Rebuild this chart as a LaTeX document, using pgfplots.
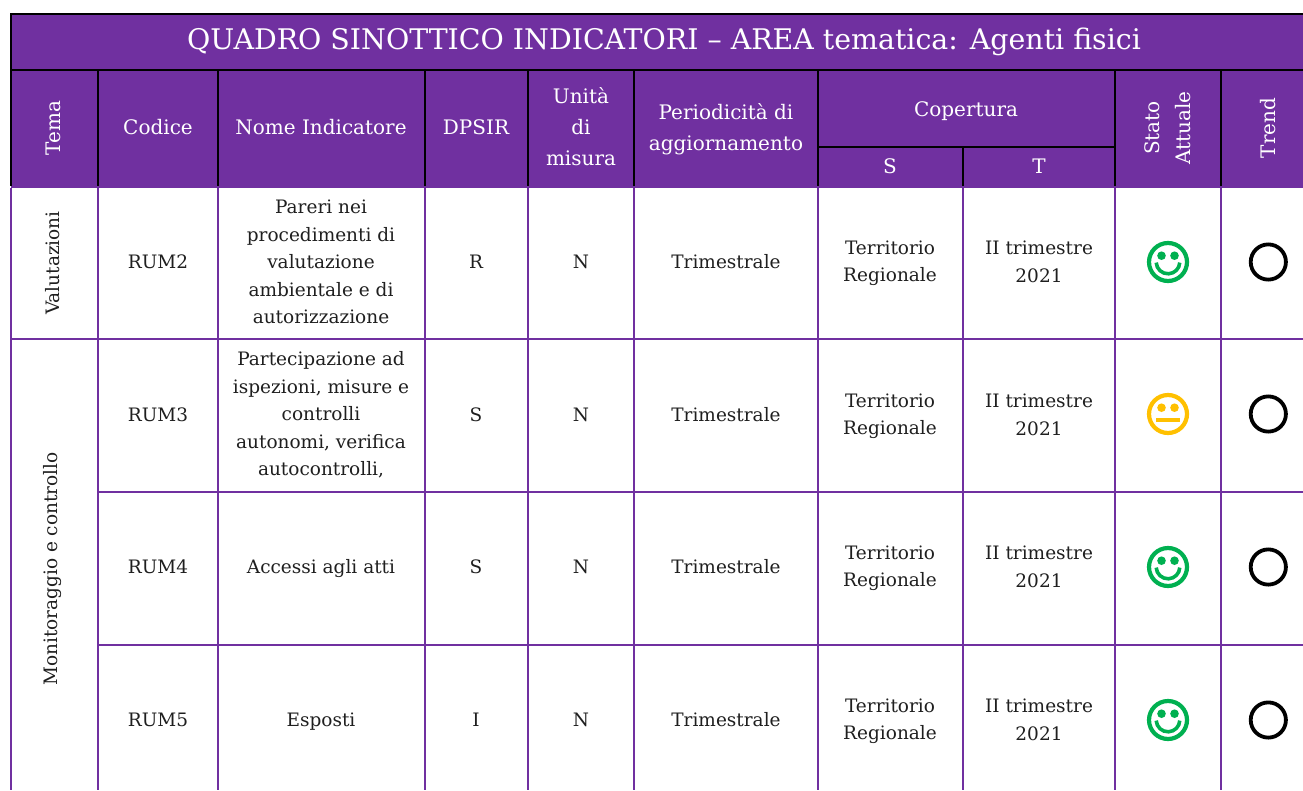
\documentclass[border=0pt]{standalone}
\usepackage{pgfplots}
\pgfplotsset{compat=1.18}
\usepackage{fontspec}
\setmainfont{DejaVu Serif}
\definecolor{viola}{HTML}{7030A0}
\definecolor{verde}{HTML}{00B050}
\definecolor{giallo}{HTML}{FFC000}
\pgfdeclareplotmark{smile}{%
  \pgfsetlinewidth{4.2pt}\pgfpathcircle{\pgfpointorigin}{19pt}\pgfusepathqstroke
  \pgfpathcircle{\pgfpoint{-6.5pt}{6.3pt}}{4.3pt}\pgfpathcircle{\pgfpoint{6.5pt}{6.3pt}}{4.3pt}\pgfusepathqfill
  \pgfsetlinewidth{3.6pt}
  \pgfpathmoveto{\pgfpoint{-11.8pt}{-0.6pt}}\pgfpatharc{183}{357}{11.8pt}\pgfusepathqstroke}
\pgfdeclareplotmark{neutral}{%
  \pgfsetlinewidth{4.2pt}\pgfpathcircle{\pgfpointorigin}{19pt}\pgfusepathqstroke
  \pgfpathcircle{\pgfpoint{-6.5pt}{6.3pt}}{4.3pt}\pgfpathcircle{\pgfpoint{6.5pt}{6.3pt}}{4.3pt}\pgfusepathqfill
  \pgfpathrectangle{\pgfpoint{-12.2pt}{-7.9pt}}{\pgfpoint{24.4pt}{4.2pt}}\pgfusepathqfill}
\newcommand{\seg}[5]{\addplot[draw=#5,line width=1.9pt,line cap=butt] coordinates {(#1,#2) (#3,#4)};}
\newcommand{\corpo}{\fontsize{18.5}{27.5}\selectfont}
\newcommand{\intest}{\fontsize{20}{31}\selectfont}
\newcommand{\cella}[3]{\node[align=center,inner sep=0pt,text=black!88,font=\corpo] at (axis cs:#1,#2) {#3};}
\newcommand{\testa}[3]{\node[align=center,inner sep=0pt,text=white,font=\intest] at (axis cs:#1,#2) {#3};}
\begin{document}
\begin{tikzpicture}
\begin{axis}[hide axis,scale only axis,width=1303pt,height=790pt,xmin=0,xmax=1303,ymin=0,ymax=790,y dir=reverse,clip=true]
\path (axis cs:0,0) rectangle (axis cs:1303,790);
% header band
\addplot[fill=viola,draw=none] coordinates {(11,14) (1303,14) (1303,188) (11,188)} --cycle;
% body lines
\seg{10}{339}{1303}{339}{viola}
\seg{98}{492}{1303}{492}{viola}
\seg{98}{645}{1303}{645}{viola}
\foreach \x in {11,98,218,425,528,634,818,963,1115,1221}{
  \edef\temp{\noexpand\seg{\x}{188}{\x}{790}{viola}}\temp
}
\foreach \x in {11,98,218,425,528,634,818,1115,1221}{
  \edef\temp{\noexpand\seg{\x}{70}{\x}{186}{black}}\temp
}
% header lines
\seg{10}{14}{1303}{14}{black}
\seg{10}{70}{1303}{70}{black}
\seg{818}{147}{1115}{147}{black}
\seg{963}{147}{963}{186}{black}
\seg{11}{14}{11}{70}{black}
% header text
\node[align=center,inner sep=0pt,text=white,font=\fontsize{28.4}{32}\selectfont] at (axis cs:664,41.5) {QUADRO SINOTTICO INDICATORI – AREA tematica: Agenti fisici};
\node[rotate=90,text=white,inner sep=0pt,font=\intest] at (axis cs:53,128) {Tema};
\testa{158}{127}{Codice}
\testa{321}{127}{Nome Indicatore}
\testa{476}{127}{DPSIR}
\testa{581}{127}{Unità\\di\\misura}
\testa{726}{129}{Periodicità di\\aggiornamento}
\testa{966}{111}{Copertura}
\testa{890}{166}{S}
\testa{1039}{166}{T}
\node[rotate=90,text=white,inner sep=0pt,align=center,font=\intest] at (axis cs:1168,128) {Stato\\Attuale};
\node[rotate=90,text=white,inner sep=0pt,font=\intest] at (axis cs:1268,128) {Trend};
% body
\node[rotate=90,inner sep=0pt,text=black!88,font=\corpo] at (axis cs:53,263) {Valutazioni};
\node[rotate=90,inner sep=0pt,text=black!88,font=\corpo] at (axis cs:53,569) {Monitoraggio e controllo};
\cella{158}{262}{RUM2}
\cella{321}{262}{Pareri nei\\procedimenti di\\valutazione\\ambientale e di\\autorizzazione}
\cella{476}{262}{R}\cella{581}{262}{N}\cella{726}{262}{Trimestrale}
\cella{890}{263}{Territorio\\Regionale}\cella{1039}{262}{II trimestre\\2021}
\cella{158}{415}{RUM3}
\cella{321}{415}{Partecipazione ad\\ispezioni, misure e\\controlli\\autonomi, verifica\\autocontrolli,}
\cella{476}{415}{S}\cella{581}{415}{N}\cella{726}{415}{Trimestrale}
\cella{890}{416}{Territorio\\Regionale}\cella{1039}{415}{II trimestre\\2021}
\cella{158}{567}{RUM4}
\cella{321}{569}{Accessi agli atti}
\cella{476}{567}{S}\cella{581}{567}{N}\cella{726}{567}{Trimestrale}
\cella{890}{568}{Territorio\\Regionale}\cella{1039}{567}{II trimestre\\2021}
\cella{158}{720}{RUM5}
\cella{321}{722}{Esposti}
\cella{476}{720}{I}\cella{581}{720}{N}\cella{726}{720}{Trimestrale}
\cella{890}{721}{Territorio\\Regionale}\cella{1039}{720}{II trimestre\\2021}
% status symbols
\addplot[only marks,mark=smile,mark size=19pt,mark options={draw=verde,fill=verde}] coordinates {(1168,262) (1168,567) (1168,720)};
\addplot[only marks,mark=neutral,mark size=19pt,mark options={draw=giallo,fill=giallo}] coordinates {(1168,414)};
\addplot[only marks,mark=o,mark size=17.6pt,mark options={draw=black,line width=3.8pt,fill=none}] coordinates {(1268.3,262) (1268.3,414) (1268.3,567) (1268.3,720)};
\end{axis}
\end{tikzpicture}
\end{document}
